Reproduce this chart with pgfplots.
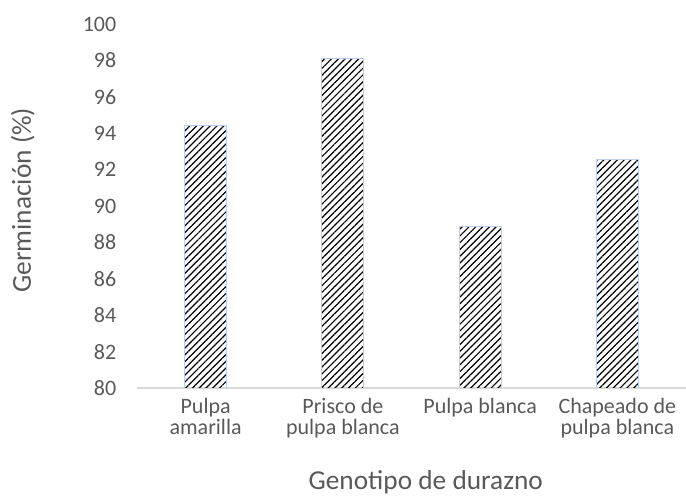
\documentclass[border=0pt]{standalone}
\usepackage{pgfplots}
\pgfplotsset{compat=1.18}
\usepackage{fontspec}
\setmainfont{Carlito}
\usetikzlibrary{patterns.meta}
\definecolor{txtgray}{RGB}{89,89,89}
\definecolor{axisgray}{RGB}{217,217,217}
\definecolor{baredge}{RGB}{190,205,235}
\begin{document}
\begin{tikzpicture}
% bounding box of the full canvas (1px = 0.75pt)
\path[use as bounding box] (-137*0.75pt,-111*0.75pt) rectangle (549*0.75pt,388*0.75pt);
\begin{axis}[
  at={(0,0)}, anchor=south west,
  scale only axis,
  width=549*0.75pt, height=364*0.75pt,
  xmin=-0.5, xmax=3.5,
  ymin=80, ymax=100,
  ytick={80,82,...,100},
  xtick={0,1,2,3},
  xticklabels={Pulpa\\amarilla, Prisco de\\pulpa blanca, Pulpa blanca, Chapeado de\\pulpa blanca},
  x tick label style={align=center, anchor=north, yshift=-4pt, font=\fontsize{16.5}{16}\selectfont, text=txtgray},
  y tick label style={font=\fontsize{16.5}{17}\selectfont, text=txtgray, xshift=-12pt},
  /pgf/number format/assume math mode=true,
  major tick length=0pt,
  axis x line*=bottom,
  axis y line*=left,
  x axis line style={draw=axisgray, line width=0.9pt, -},
  y axis line style={draw=none},
  ytick style={draw=none}, xtick style={draw=none},
  xlabel={Genotipo de durazno},
  ylabel={Germinación (\%)},
  xlabel style={font=\fontsize{20.5}{22}\selectfont, text=txtgray, inner sep=0pt, at={(axis description cs:0.526,-0.2802)}, anchor=base},
  ylabel style={font=\fontsize{20.5}{22}\selectfont, text=txtgray, at={(axis description cs:-0.208,0.516)}, anchor=center},
]
\addplot[ybar, bar width=42*0.75pt, draw=baredge, line width=0.6pt,
  pattern={Lines[angle=45, distance=3.6pt, line width=0.9pt]}, pattern color=black]
  coordinates {(0,94.45) (1,98.13) (2,88.9) (3,92.58)};
\end{axis}
\end{tikzpicture}
\end{document}
